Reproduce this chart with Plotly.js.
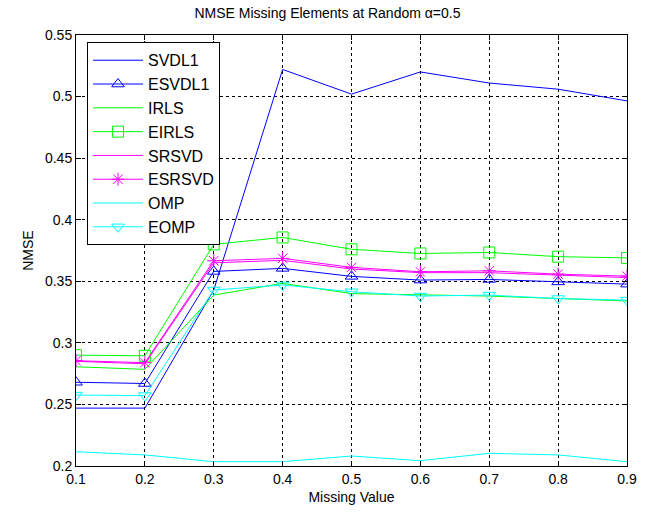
<!DOCTYPE html>
<html>
<head>
<meta charset="utf-8">
<script src="https://cdn.plot.ly/plotly-3.0.1.min.js"></script>
<style>html,body{margin:0;padding:0;background:#fff;}#chart{width:655px;height:514px;}</style>
</head>
<body>
<div id="chart"></div>
<script>
// Missing ratio on the x axis
const missing = [0.1, 0.2, 0.3, 0.4, 0.5, 0.6, 0.7, 0.8, 0.9];

// NMSE per method
const svdl1  = [0.247, 0.247, 0.343, 0.522, 0.502, 0.520, 0.511, 0.506, 0.4965];
const esvdl1 = [0.268, 0.267, 0.358, 0.3605, 0.354, 0.351, 0.3515, 0.3495, 0.3477];
const irls   = [0.2806, 0.2785, 0.3388, 0.3483, 0.340, 0.3388, 0.338, 0.336, 0.334];
const eirls  = [0.290, 0.2895, 0.380, 0.3856, 0.376, 0.3726, 0.3734, 0.370, 0.369];
const srsvd  = [0.285, 0.283, 0.365, 0.367, 0.360, 0.357, 0.357, 0.355, 0.353];
const esrsvd = [0.2855, 0.2839, 0.3667, 0.3686, 0.3613, 0.3577, 0.3585, 0.3558, 0.3542];
const omp    = [0.2116, 0.209, 0.2035, 0.2035, 0.2081, 0.2043, 0.2103, 0.209, 0.2035];
const eomp   = [0.2576, 0.2572, 0.3429, 0.347, 0.3415, 0.338, 0.3388, 0.336, 0.3347];

const BLUE = '#0000ff', GREEN = '#00ff00', MAGENTA = '#ff00ff', CYAN = '#00ffff';

function series(name, y, color, symbol) {
  const t = {
    x: missing, y: y, name: name, type: 'scatter',
    mode: symbol ? 'lines+markers' : 'lines',
    line: {color: color, width: 1}
  };
  if (symbol) {
    t.marker = {symbol: symbol, size: 11, color: color, line: {color: color, width: 1}};
  }
  return t;
}

const data = [
  series('SVDL1', svdl1, BLUE),
  series('ESVDL1', esvdl1, BLUE, 'triangle-up-open'),
  series('IRLS', irls, GREEN),
  series('EIRLS', eirls, GREEN, 'square-open'),
  series('SRSVD', srsvd, MAGENTA),
  series('ESRSVD', esrsvd, MAGENTA, 'asterisk-open'),
  series('OMP', omp, CYAN),
  series('EOMP', eomp, CYAN, 'triangle-down-open')
];

const axisCommon = {
  showline: true, mirror: 'ticks', linecolor: '#000', linewidth: 1,
  ticks: 'inside', ticklen: 5, tickcolor: '#000',
  showgrid: true, gridcolor: '#000', gridwidth: 1, griddash: '3px,3px',
  zeroline: false,
  tickfont: {family: 'Liberation Sans, Arial, sans-serif', size: 14, color: '#000'}
};

const layout = {
  width: 655, height: 514,
  margin: {l: 76, r: 28, t: 35, b: 48},
  paper_bgcolor: '#fff', plot_bgcolor: '#fff',
  font: {family: 'Liberation Sans, Arial, sans-serif', color: '#000'},
  title: {text: 'NMSE Missing Elements at Random α=0.5', font: {size: 14}, x: 0.5, xanchor: 'center', y: 0.985, yanchor: 'top'},
  xaxis: Object.assign({}, axisCommon, {
    range: [0.1, 0.9], tickvals: missing, ticktext: missing.map(v => v.toFixed(1)),
    title: {text: 'Missing Value', font: {size: 14}, standoff: 6}
  }),
  yaxis: Object.assign({}, axisCommon, {
    range: [0.2, 0.55], dtick: 0.05, tick0: 0.2,
    title: {text: 'NMSE', font: {size: 14}, standoff: 8}
  }),
  legend: {
    x: 0.02, y: 0.983, xanchor: 'left', yanchor: 'top',
    bgcolor: '#fff', bordercolor: '#000', borderwidth: 1,
    font: {size: 16}, itemwidth: 50, tracegroupgap: 0
  },
  showlegend: true
};

Plotly.newPlot('chart', data, layout, {displayModeBar: false, staticPlot: true});
</script>
</body>
</html>
